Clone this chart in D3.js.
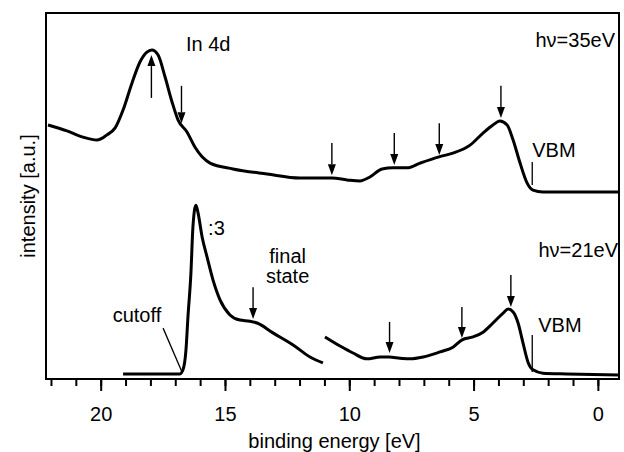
<!DOCTYPE html>
<html>
<head>
<meta charset="utf-8">
<script src="https://cdn.jsdelivr.net/npm/d3@7"></script>
<style>
  body { margin: 0; background: #fff; }
  svg { display: block; }
  text { font-family: "Liberation Sans", Arial, sans-serif; fill: #000; }
</style>
</head>
<body>
<div id="chart"></div>
<script>
// Spectra: [binding energy (eV), intensity (a.u.)]
const spec35 = [
  [22.12, 69.4], [21.36, 67.8], [20.71, 66.1], [20.15, 65.3], [19.75, 66.7], [19.42, 68.6],
  [19.10, 73.5], [18.74, 80.9], [18.42, 86.6], [18.14, 89.3], [17.94, 89.9], [17.69, 88.5],
  [17.41, 82.5], [17.13, 75.7], [16.89, 70.8], [16.53, 67.5], [16.21, 63.4], [15.92, 60.7],
  [15.60, 59.0], [14.68, 57.4], [13.31, 56.0], [11.98, 54.9], [10.69, 54.9], [10.09, 54.4],
  [9.57, 54.1], [9.17, 55.2], [8.68, 57.4], [8.24, 57.7], [7.68, 57.7], [7.15, 59.0],
  [6.39, 60.7], [5.83, 61.7], [5.14, 63.9], [4.62, 67.2], [4.22, 69.4], [3.94, 70.5],
  [3.65, 69.4], [3.41, 65.3], [3.13, 59.0], [2.85, 53.6], [2.61, 51.6], [2.21, 51.1],
  [-0.85, 51.1]
];

// hv = 21 eV, first part (secondary edge, scaled :3)
const spec21a = [
  [19.10, 1.4], [16.81, 1.4], [16.69, 2.5], [16.57, 7.9], [16.49, 16.9], [16.37, 29.0],
  [16.29, 41.5], [16.17, 47.5], [16.09, 45.6], [15.92, 38.8], [15.72, 33.3], [15.48, 27.0],
  [15.20, 21.6], [14.80, 17.5], [14.40, 16.1], [14.00, 15.8], [13.71, 15.3], [13.07, 12.6],
  [12.26, 9.3], [11.58, 6.0], [11.06, 4.4]
];

// hv = 21 eV, valence band part
const spec21b = [
  [10.98, 11.5], [10.37, 9.0], [9.85, 7.1], [9.29, 5.5], [8.76, 6.0], [8.40, 6.0],
  [7.96, 5.7], [7.56, 5.5], [7.03, 6.0], [6.35, 7.4], [5.83, 8.7], [5.46, 10.7],
  [5.02, 11.5], [4.62, 12.8], [4.22, 15.3], [3.81, 18.0], [3.61, 19.1], [3.41, 18.3],
  [3.21, 15.3], [3.01, 9.8], [2.81, 4.6], [2.61, 2.5], [2.21, 1.6], [1.24, 1.4],
  [-0.85, 1.1]
];

// Arrows: [energy, tail intensity, head intensity]
const arrows = [
  [17.96, 76.8, 88.5], [16.75, 80.1, 69.9], [10.7, 64.5, 55.7], [8.19, 67.2, 58.5],
  [6.38, 69.9, 61.2], [3.9, 80.1, 71.3],
  [13.87, 25.1, 16.4], [8.38, 15.6, 7.1], [5.47, 19.7, 11.2], [3.5, 28.4, 19.7]
];

// VBM markers: [energy, top, bottom]
const vbm = [[2.64, 59.3, 53.0], [2.64, 12.0, 1.9]];

// cutoff pointer line
const cutoffLine = [[17.49, 13.9], [16.73, 1.9]];

// Text labels: [text, energy, intensity, anchor]
const labels = [
  ["In 4d", 16.57, 89.6, "start"],
  ["hν=35eV", -0.69, 90.7, "end"],
  ["VBM", 2.64, 60.7, "start"],
  ["hν=21eV", -0.81, 33.3, "end"],
  ["VBM", 2.4, 12.8, "start"],
  [":3", 15.68, 39.3, "start"],
  ["final", 12.48, 31.7, "middle"],
  ["state", 12.48, 26.2, "middle"],
  ["cutoff", 18.54, 15.6, "middle"]
];

const majorTicks = [20, 15, 10, 5, 0];
const minorTicks = d3.range(0, 23);

const width = 624, height = 452;
const margin = {top: 13, right: 5, bottom: 73, left: 46};

const svg = d3.select("#chart").append("svg")
  .attr("width", width)
  .attr("height", height);

const x = d3.scaleLinear()
  .domain([22.2, -0.85])
  .range([margin.left, width - margin.right]);

const y = d3.scaleLinear()
  .domain([0, 100])
  .range([height - margin.bottom, margin.top]);

// minor ticks
svg.append("g")
  .attr("transform", `translate(0,${y(0)})`)
  .call(d3.axisBottom(x).tickValues(minorTicks).tickSize(7).tickFormat(""))
  .call(g => g.select(".domain").remove())
  .selectAll("line").attr("stroke-width", 2);

// major ticks + labels
svg.append("g")
  .attr("transform", `translate(0,${y(0)})`)
  .call(d3.axisBottom(x).tickValues(majorTicks).tickSize(12).tickPadding(16).tickFormat(d3.format("d")))
  .call(g => g.select(".domain").remove())
  .call(g => g.selectAll("line").attr("stroke-width", 2))
  .call(g => g.selectAll("text")
    .attr("font-size", 20)
    .attr("font-family", "Liberation Sans, Arial, sans-serif"));

// frame
svg.append("rect")
  .attr("x", x.range()[0])
  .attr("y", y.range()[1])
  .attr("width", x.range()[1] - x.range()[0])
  .attr("height", y.range()[0] - y.range()[1])
  .attr("fill", "none")
  .attr("stroke", "#000")
  .attr("stroke-width", 2);

// axis titles
svg.append("text")
  .attr("x", (x.range()[0] + x.range()[1]) / 2 + 2)
  .attr("y", 448)
  .attr("text-anchor", "middle")
  .attr("font-size", 20)
  .text("binding energy [eV]");

svg.append("text")
  .attr("transform", `translate(35,${(y.range()[0] + y.range()[1]) / 2})rotate(-90)`)
  .attr("text-anchor", "middle")
  .attr("font-size", 20)
  .text("intensity [a.u.]");

// spectra
const line = d3.line()
  .x(d => x(d[0]))
  .y(d => y(d[1]))
  .curve(d3.curveMonotoneX);

svg.selectAll("path.spec")
  .data([spec35, spec21a, spec21b])
  .enter()
  .append("path")
  .attr("class", "spec")
  .attr("d", line)
  .attr("fill", "none")
  .attr("stroke", "#000")
  .attr("stroke-width", 3)
  .attr("stroke-linejoin", "round");

// arrows
const headLen = 11, headW = 4;
const ga = svg.append("g");
arrows.forEach(a => {
  const ax = x(a[0]), y0 = y(a[1]), y1 = y(a[2]);
  const dir = y1 > y0 ? 1 : -1;
  ga.append("line")
    .attr("x1", ax).attr("x2", ax)
    .attr("y1", y0).attr("y2", y1 - dir * headLen)
    .attr("stroke", "#000")
    .attr("stroke-width", 1.4);
  ga.append("path")
    .attr("d", `M${ax},${y1}L${ax - headW},${y1 - dir * headLen}L${ax + headW},${y1 - dir * headLen}Z`)
    .attr("fill", "#000");
});

// VBM markers
svg.selectAll("line.vbm")
  .data(vbm)
  .enter()
  .append("line")
  .attr("class", "vbm")
  .attr("x1", d => x(d[0])).attr("x2", d => x(d[0]))
  .attr("y1", d => y(d[1])).attr("y2", d => y(d[2]))
  .attr("stroke", "#000")
  .attr("stroke-width", 1.3);

// cutoff pointer
svg.append("path")
  .attr("d", d3.line().x(d => x(d[0])).y(d => y(d[1]))(cutoffLine))
  .attr("stroke", "#000")
  .attr("stroke-width", 1.3)
  .attr("fill", "none");

// labels
svg.selectAll("text.lab")
  .data(labels)
  .enter()
  .append("text")
  .attr("class", "lab")
  .attr("x", d => x(d[1]))
  .attr("y", d => y(d[2]))
  .attr("text-anchor", d => d[3])
  .attr("font-size", 20)
  .text(d => d[0]);
</script>
</body>
</html>
